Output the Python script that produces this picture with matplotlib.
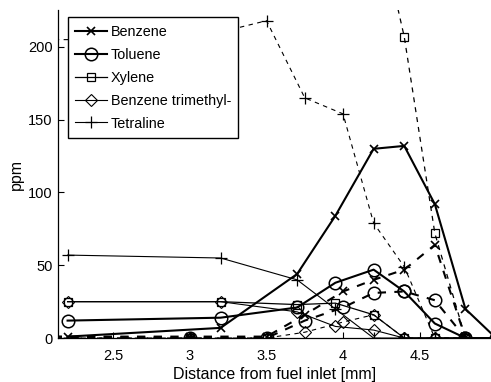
import numpy as np
import matplotlib
matplotlib.use("Agg")
import matplotlib.pyplot as plt

plt.rcParams['font.family'] = ['Liberation Sans', 'DejaVu Sans']

# Distance from fuel inlet [mm]
x_solid = [2.2, 3.2, 3.7, 3.95, 4.2, 4.4, 4.6, 4.8, 5.0]
x_dashed = [2.0, 3.0, 3.5, 3.75, 4.0, 4.2, 4.4, 4.6, 4.8]

# Mole fractions [ppm], solid-line profiles
benzene_solid = [1, 7, 44, 84, 130, 132, 92, 20, 0]
toluene_solid = [12, 14, 21, 38, 47, 32, 10, 0, 0]
xylene_solid = [25, 25, 23, 24, 16, 0, 0, 0, 0]
trimethyl_solid = [25, 25, 18, 8, 5.5, 0, 0, 0, 0]
tetraline_solid = [57, 55, 40, 20, 0, 0, 0, 0, 0]

# Mole fractions [ppm], dashed-line profiles
benzene_dashed = [1, 1, 1, 16, 32, 40, 47, 64, 0]
toluene_dashed = [1, 0, 0, 12, 21, 31, 32, 26, 0]
xylene_dashed = [0, 0, 0, np.nan, np.nan, 300, 207, 72, 0]
trimethyl_dashed = [0, 0, 0, 4, 11, 16, 0, 0, 0]
tetraline_dashed = [205, 205, 218, 165, 154, 79, 49, 0, 0]

labels = ["Benzene", "Toluene", "Xylene", "Benzene trimethyl-", "Tetraline"]
x_ticks = [2.5, 3, 3.5, 4, 4.5]
y_ticks = [0, 50, 100, 150, 200]

styles = [
    dict(marker='x', ms=6, mew=1.2, lw=1.5),
    dict(marker='o', ms=9, mew=1.1, lw=1.5, mfc='none'),
    dict(marker='s', ms=6, mew=0.9, lw=0.9, mfc='none'),
    dict(marker='D', ms=6.5, mew=0.8, lw=0.8, mfc='none'),
    dict(marker='+', ms=9, mew=0.9, lw=0.8),
]

solid = [benzene_solid, toluene_solid, xylene_solid, trimethyl_solid, tetraline_solid]
dashed = [benzene_dashed, toluene_dashed, xylene_dashed, trimethyl_dashed, tetraline_dashed]

fig = plt.figure(figsize=(4.91, 3.82), dpi=100)
ax = fig.add_axes([0.118, 0.115, 0.882, 0.859])

handles = []
for ys, st, lab in zip(solid, styles, labels):
    h, = ax.plot(x_solid, ys, color='black', linestyle='-', label=lab, **st)
    handles.append(h)

for ys, st in zip(dashed, styles):
    ax.plot(x_dashed, ys, color='black', linestyle=(0, (4, 4)), **st)

ax.set_xlim(2.137, 4.967)
ax.set_ylim(0, 225.4)
ax.set_xticks(x_ticks)
ax.set_xticklabels([f"{t:g}" for t in x_ticks])
ax.set_yticks(y_ticks)
ax.tick_params(direction='in', length=4, width=0.8, labelsize=10.5)
ax.tick_params(axis='x', pad=8)
ax.tick_params(axis='y', pad=4)
for side in ('top', 'right'):
    ax.spines[side].set_visible(False)
for side in ('left', 'bottom'):
    ax.spines[side].set_linewidth(0.9)

ax.set_xlabel("Distance from fuel inlet [mm]", fontsize=11.5, labelpad=3)
ax.set_ylabel("ppm", fontsize=11.5, labelpad=3)

leg = ax.legend(handles=handles, loc='upper left', bbox_to_anchor=(0.023, 0.977),
                fontsize=10.4, frameon=True, fancybox=False, borderpad=0.5,
                handlelength=2.2, handletextpad=0.25, labelspacing=0.62,
                borderaxespad=0)
leg.get_frame().set_edgecolor('black')
leg.get_frame().set_linewidth(1.0)
leg.get_frame().set_alpha(1)

fig.savefig("out.png", dpi=100)
